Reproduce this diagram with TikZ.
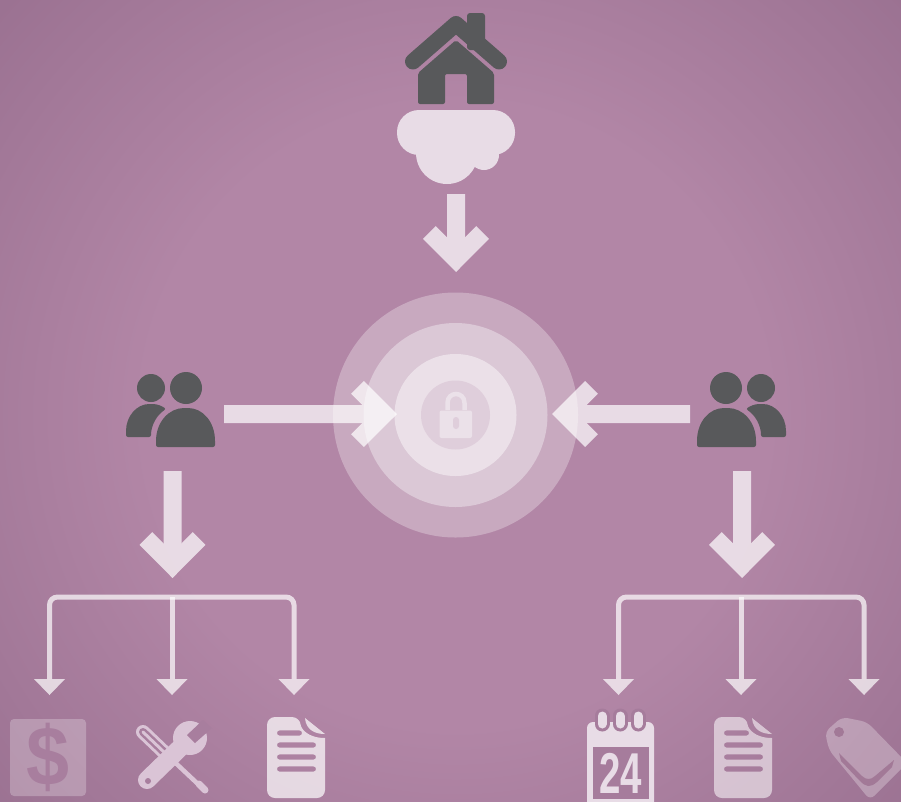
\documentclass[tikz,border=0pt]{standalone}
\usepackage{xcolor}
\usepackage{fontspec}
\setmainfont{Liberation Sans}
\usetikzlibrary{arrows.meta}

\definecolor{glowin}{HTML}{B286A6}
\definecolor{glowout}{HTML}{9A7191}
\definecolor{darkicon}{HTML}{58595B}
\definecolor{paleicon}{HTML}{E8DCE6}
\definecolor{toolicon}{HTML}{DAC4D6}
\definecolor{lockdisc}{HTML}{DFCEDB}
\definecolor{lockbody}{HTML}{EBE1E9}
\definecolor{holeleft}{HTML}{A87E9E}
\definecolor{holeright}{HTML}{A67C9C}
\definecolor{holetag}{HTML}{A27997}
\pgfdeclareradialshading{glow}{\pgfpointorigin}{color(0bp)=(glowin); color(12bp)=(glowin); color(24bp)=(glowout); color(50bp)=(glowout)}

\tikzset{
    ring/.style = {circle, fill=white, inner sep=0pt},
    bigarrow/.style = {white, line width=18pt, -{Straight Barb[length=26.7pt, width=53.2pt, line width=18pt, sharp]}},
    stem/.style = {white, opacity=0.7, line width=5pt, -{Triangle[width=31pt, length=16pt, line width=0pt]}},
    bracket/.style = {white, opacity=0.7, line width=5pt, rounded corners=8pt,
        {Triangle[width=31pt, length=16pt, line width=0pt]}-{Triangle[width=31pt, length=16pt, line width=0pt]}},
    pics/people/.style = {code = {
        \fill[darkicon] (151,388) circle (14);
        \fill[darkicon] (186,388) circle (16);
        \fill[darkicon, rounded corners=2pt] (126,437) -- (126,433) .. controls (126,416) and (137,404) .. (151,404)
            .. controls (157,404) and (162,406) .. (166,409) .. controls (157,415) and (151,425) .. (151,437) -- cycle;
        \fill[darkicon, rounded corners=2pt] (156,447) -- (156,443) .. controls (156,422) and (169,408) .. (186,408)
            .. controls (203,408) and (215,422) .. (215,443) -- (215,447) -- cycle;
    }},
    pics/sheet/.style = {code = {
        \fill[white, even odd rule, rounded corners=8pt] (0,0) -- (33,0) [sharp corners] .. controls (34,11) and (40,21) .. (58,21)
            [rounded corners=8pt] -- (58,81) -- (0,81) -- cycle
            [rounded corners=2.5pt] (10,13.4) rectangle (35,18.6)
            \foreach \y in {25.4,37.4,49.4} {(10,\y) rectangle (49,\y+5.2)};
        \fill[white] (38,1) -- (58,17) .. controls (48,17) and (39,13) .. (38,1);
    }}
}

\begin{document}
\begin{tikzpicture}[x=1pt, y=-1pt]
    \useasboundingbox (0,0) rectangle (901,801);
    \clip (0,0) rectangle (901,801);
    \shade[shading=glow] (-194,-235) rectangle (1106,1065);  % background

    % rings round the lock
    \node[ring, fill opacity=0.29, minimum size=245pt] (outerring) at (455.5,415) {};
    \node[ring, fill opacity=0.36, minimum size=184pt] (midring) at (455.5,415) {};
    \node[ring, fill opacity=0.45, minimum size=122pt] (innerring) at (455.5,415) {};
    \node[ring, fill=lockdisc, minimum size=69pt] (lockring) at (455.5,415) {};
    \draw[lockbody, line width=4.5pt] (447.5,410) -- (447.5,403) .. controls (447.5,391) and (464.5,391) .. (464.5,403) -- (464.5,410);
    \fill[lockbody, rounded corners=2pt] (439.5,410.5) rectangle (472,438);
    \fill[lockdisc, rounded corners=3pt] (453,417) rectangle (459,429);

    % house on the cloud
    \draw[darkicon, line width=16pt, line cap=round, line join=round] (413,61.5) -- (456,24) -- (499,61.5);
    \fill[darkicon, rounded corners=3pt] (467,13) rectangle (485,50);
    \fill[darkicon, rounded corners=2pt] (456,40) -- (494,73) -- (494,104) -- (467,104) -- (467,74) -- (445,74)
        -- (445,104) -- (418,104) -- (418,73) -- cycle;
    \fill[paleicon, rounded corners=22pt] (397,110) rectangle (515,155);
    \fill[paleicon] (447,153) circle (31);
    \fill[paleicon] (484,155) circle (15);

    \pic at (0,0) {people};  % left group
    \pic[xscale=-1] at (912,0) {people};  % right group

    % connector ends
    \coordinate (cloudfoot) at (456,194);
    \coordinate (locktop) at (456,272);
    \coordinate (leftgroup) at (224,414);
    \coordinate (lockleft) at (397,414);
    \coordinate (rightgroup) at (690,414);
    \coordinate (lockright) at (552,414);
    \coordinate (leftfoot) at (172.5,471);
    \coordinate (lefttree) at (172.5,578);
    \coordinate (rightfoot) at (742,471);
    \coordinate (righttree) at (742,578);
    \coordinate (leftbus) at (172,597);
    \coordinate (rightbus) at (741,597);
    \coordinate (dollartop) at (49.5,695);
    \coordinate (toolstop) at (172,695);
    \coordinate (sheettop) at (294,695);
    \coordinate (calendartop) at (618.5,695);
    \coordinate (secondtop) at (741,695);
    \coordinate (tagtop) at (864,695);

    \begin{scope}[transparency group, opacity=0.71]
        \draw[bigarrow] (cloudfoot) -- (locktop);
        \draw[bigarrow] (leftgroup) -- (lockleft);
        \draw[bigarrow] (rightgroup) -- (lockright);
        \draw[bigarrow] (leftfoot) -- (lefttree);
        \draw[bigarrow] (rightfoot) -- (righttree);
    \end{scope}

    \draw[bracket] (dollartop) |- (leftbus) -| (sheettop);
    \draw[stem] (leftbus) -- (toolstop);
    \draw[bracket] (calendartop) |- (rightbus) -| (tagtop);
    \draw[stem] (rightbus) -- (secondtop);

    % dollar tile
    \fill[white, fill opacity=0.25, rounded corners=4pt] (10,719) rectangle (86,796);
    \node[text=holeleft, font=\bfseries\fontsize{84}{84}\selectfont, inner sep=0pt, xscale=0.92] (dollar) at (48,757) {\$};

    % tools
    \draw[toolicon, line width=14pt, line cap=round] (143,732) -- (165,753);
    \draw[holeleft, line width=8pt, line cap=round] (143,732) -- (165,753);
    \draw[toolicon, line width=3pt, line cap=round] (143,732) -- (165,753);
    \draw[toolicon, line width=4.5pt] (165,753) -- (199,785);
    \draw[toolicon, line width=7pt, line cap=round] (199,784) -- (205,790);
    \draw[toolicon, line width=18pt, line cap=round] (147,780) -- (180,748);
    \fill[toolicon] (190,738) circle (17);
    \fill[holeleft] (187,735) -- (195,743) -- (212,728) -- (203,720) -- cycle;
    \fill[holeleft] (148,781) circle (3);

    \pic[fill opacity=0.7] at (267,717) {sheet};
    \pic[fill opacity=0.55] at (714,717) {sheet};

    % calendar
    \fill[paleicon, rounded corners=6pt] (587,722) rectangle (654,810);
    \foreach \x in {602,620,638} {
        \draw[holeright, line width=15pt, line cap=round] (\x,716) -- (\x,724);
        \draw[paleicon, line width=9pt, line cap=round] (\x,716) -- (\x,724);
    }
    \fill[holeright] (593,747) rectangle (649,799);
    \node[text=paleicon, font=\bfseries\fontsize{48}{48}\selectfont, inner sep=0pt, xscale=0.8, yscale=1.2] (daynumber) at (620.5,773) {24};

    % tag
    \fill[white, fill opacity=0.28, rounded corners=6pt] (825,732) -- (842,717) -- (867,722) -- (907,763) -- (870,800) -- (829,750) -- cycle;
    \fill[holetag] (839,732) circle (5);
    \fill[holetag] (839,753) -- (862,776) .. controls (866,780) and (871,780) .. (875,776) -- (894,760)
        -- (892,767) -- (877,782) .. controls (870,788) and (866,787) .. (860,781) -- (841,761) -- cycle;
\end{tikzpicture}
\end{document}
